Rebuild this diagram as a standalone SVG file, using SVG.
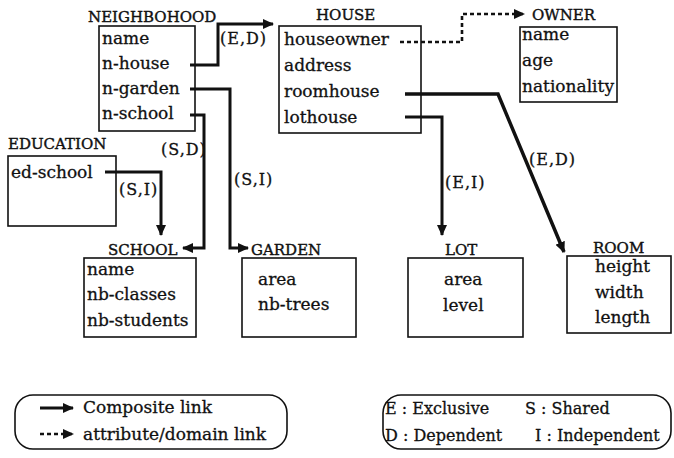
<svg xmlns="http://www.w3.org/2000/svg" width="674" height="458" viewBox="0 0 674 458">
<style>
  text { font-family: "DejaVu Serif", "Liberation Serif", serif; fill: #111; stroke: #111; stroke-width: 0.3; }
  .title { font-size: 15px; stroke-width: 0.4; }
  .row { font-size: 17px; }
  .lbl { font-size: 16px; letter-spacing: 1px; }
  .leg { font-size: 17px; }
  .code { font-size: 16px; }
  .box { fill: #fff; stroke: #111; stroke-width: 1.6; }
  .link { fill: none; stroke: #111; stroke-width: 3; stroke-linejoin: miter; }
  .dash { fill: none; stroke: #111; stroke-width: 2.6; stroke-dasharray: 4 3; }
  .legbox { fill: none; stroke: #111; stroke-width: 1.6; }
</style>
<defs>
  <marker id="ah" markerUnits="userSpaceOnUse" markerWidth="12" markerHeight="10" refX="10" refY="5" orient="auto">
    <path d="M0,0 L11,5 L0,10 Z" fill="#111"/>
  </marker>
</defs>

<g id="neighbohood">
  <text class="title" x="88" y="22">NEIGHBOHOOD</text>
  <rect class="box" x="99" y="26" width="96" height="105"/>
  <text class="row" x="102" y="44">name</text>
  <text class="row" x="102" y="69">n-house</text>
  <text class="row" x="102" y="94">n-garden</text>
  <text class="row" x="102" y="119">n-school</text>
</g>

<g id="house">
  <text class="title" x="316" y="20">HOUSE</text>
  <rect class="box" x="279" y="26" width="142" height="107"/>
  <text class="row" x="284" y="45">houseowner</text>
  <text class="row" x="284" y="71">address</text>
  <text class="row" x="284" y="97">roomhouse</text>
  <text class="row" x="284" y="123">lothouse</text>
</g>

<g id="owner">
  <text class="title" x="532" y="20">OWNER</text>
  <rect class="box" x="520" y="27" width="97" height="75"/>
  <text class="row" x="522" y="40">name</text>
  <text class="row" x="522" y="66">age</text>
  <text class="row" x="522" y="92">nationality</text>
</g>

<g id="education">
  <text class="title" x="8" y="149">EDUCATION</text>
  <rect class="box" x="8" y="156" width="108" height="70"/>
  <text class="row" x="11" y="178">ed-school</text>
</g>

<g id="school">
  <text class="title" x="108" y="255">SCHOOL</text>
  <rect class="box" x="84" y="258" width="112" height="79"/>
  <text class="row" x="87" y="275">name</text>
  <text class="row" x="87" y="300">nb-classes</text>
  <text class="row" x="87" y="326">nb-students</text>
</g>

<g id="garden">
  <text class="title" x="251" y="255">GARDEN</text>
  <rect class="box" x="242" y="258" width="114" height="79"/>
  <text class="row" x="258" y="285">area</text>
  <text class="row" x="258" y="310">nb-trees</text>
</g>

<g id="lot">
  <text class="title" x="445" y="255">LOT</text>
  <rect class="box" x="408" y="258" width="115" height="79"/>
  <text class="row" x="444" y="285">area</text>
  <text class="row" x="443" y="311">level</text>
</g>

<g id="room">
  <text class="title" x="593" y="253">ROOM</text>
  <rect class="box" x="567" y="256" width="104" height="77"/>
  <text class="row" x="595" y="272">height</text>
  <text class="row" x="595" y="298">width</text>
  <text class="row" x="595" y="323">length</text>
</g>

<g id="connectors">
  <path class="link" d="M190,65 H218 V24 H273" marker-end="url(#ah)"/>
  <path class="link" d="M190,89 H230 V248 H248" marker-end="url(#ah)"/>
  <path class="link" d="M190,115 H204 V248 H183" marker-end="url(#ah)"/>
  <path class="link" d="M105,172 H161 V235" marker-end="url(#ah)"/>
  <path class="dash" d="M400,42 H462 V14 H524" marker-end="url(#ah)"/>
  <path class="link" d="M405,94 H498 L564,252" marker-end="url(#ah)" style="stroke-width:3.5"/>
  <path class="link" d="M405,117 H442 V235" marker-end="url(#ah)"/>
  <text class="lbl" x="220" y="44">(E,D)</text>
  <text class="lbl" x="161" y="155">(S,D)</text>
  <text class="lbl" x="234" y="185">(S,I)</text>
  <text class="lbl" x="119" y="195">(S,I)</text>
  <text class="lbl" x="529" y="165">(E,D)</text>
  <text class="lbl" x="445" y="188">(E,I)</text>
</g>

<g id="legend-links">
  <rect class="legbox" x="15" y="395" width="272" height="54" rx="18" ry="18"/>
  <path class="link" d="M40,408 H73" marker-end="url(#ah)"/>
  <path class="dash" d="M40,434 H73" marker-end="url(#ah)"/>
  <text class="leg" x="83" y="413">Composite link</text>
  <text class="leg" x="83" y="440">attribute/domain link</text>
</g>

<g id="legend-codes">
  <rect class="legbox" x="383" y="395" width="288" height="54" rx="18" ry="18"/>
  <text class="code" x="385" y="414">E : Exclusive</text>
  <text class="code" x="525" y="414">S : Shared</text>
  <text class="code" x="385" y="441">D : Dependent</text>
  <text class="code" x="535" y="441">I : Independent</text>
</g>
</svg>
